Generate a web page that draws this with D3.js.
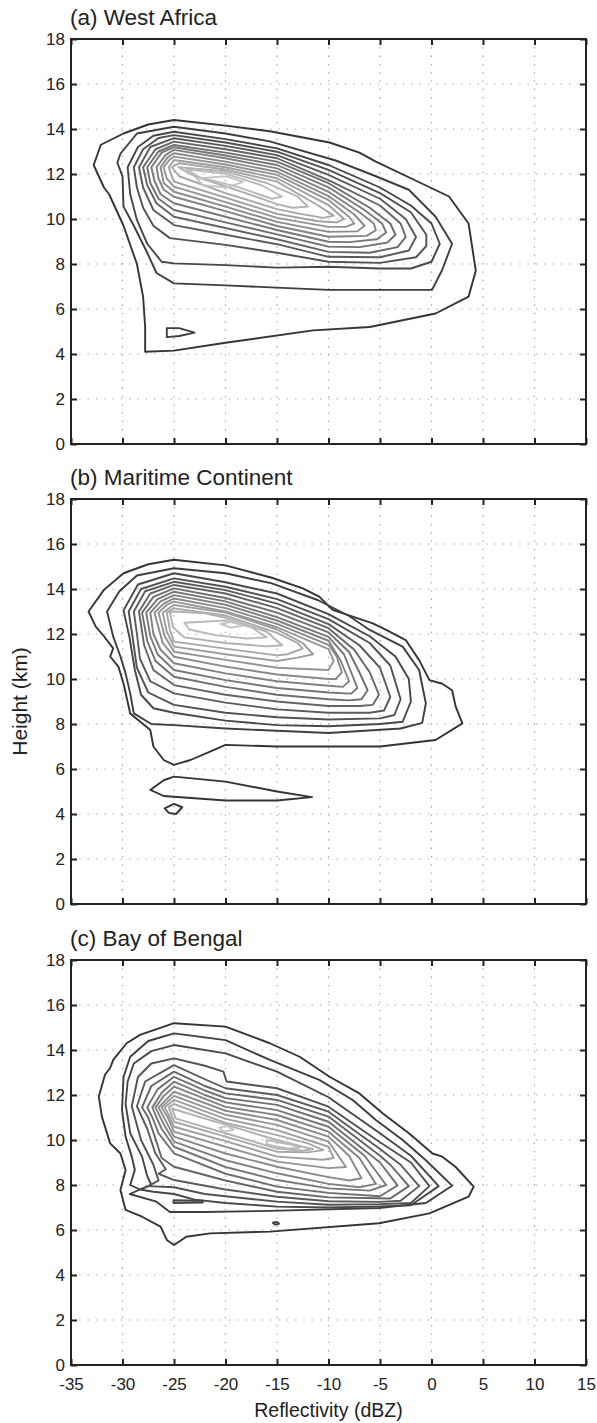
<!DOCTYPE html>
<html>
<head>
<meta charset="utf-8">
<script src="https://d3js.org/d3.v7.min.js"></script>
<style>
  body { margin: 0; background: #fff; }
  text { font-family: "Liberation Sans", Arial, sans-serif; fill: #222; }
</style>
</head>
<body>
<div id="chart"></div>
<script>
var W = 597, H = 1423;
var plotLeft = 71, plotRight = 586, panelH = 405;
var panelTops = [39, 499, 960];

var xTicks = [-35, -30, -25, -20, -15, -10, -5, 0, 5, 10, 15];
var yTicks = [0, 2, 4, 6, 8, 10, 12, 14, 16, 18];
var titles = ["(a) West Africa", "(b) Maritime Continent", "(c) Bay of Bengal"];

// contour rings, [dBZ, km], outermost level first
var westAfrica = [
  [[-32.8,12.4],[-32.1,13.3],[-29.9,13.8],[-27.5,14.2],[-25,14.4],[-20,14.15],[-15.7,13.9],[-9.9,13.4],[-7,12.95],[-5.4,12.55],[-1.5,11.7],[1.7,11.0],[3.6,9.8],[4.3,7.7],[3.6,6.55],[0.4,5.8],[-6,5.2],[-11.5,5.05],[-20,4.5],[-25,4.15],[-27.8,4.1],[-27.8,5.2],[-28.0,6.55],[-28.6,8.0],[-29.9,9.7],[-30.9,10.7],[-31.3,11.1],[-31.8,11.4],[-32.3,11.9]],
  [[-30.5,12.5],[-30.2,12.9],[-28.6,13.8],[-25,14.1],[-20,13.8],[-15.7,13.45],[-9.3,12.6],[-5.4,11.9],[-2.2,11.3],[0.4,10.1],[2.0,8.9],[1.0,7.7],[0.05,6.85],[-5,6.85],[-10,6.85],[-20,7.05],[-25,7.14],[-26.7,7.6],[-27.6,8.5],[-28.9,9.7],[-29.9,10.55],[-30.0,11.9]],
  [[-29.5,12.3],[-28.5,13.2],[-27,13.7],[-25,13.88],[-20,13.55],[-15,13.14],[-10,12.4],[-5,11.4],[-2,10.6],[0,9.8],[0.8,8.9],[0,8.1],[-2,7.8],[-5,7.8],[-10,7.88],[-15,7.84],[-20,7.95],[-25,8.03],[-26.2,8.1],[-27.6,8.9],[-28.6,9.96],[-29.25,11.1]],
  [[-28.9,12.3],[-28,13.1],[-26.5,13.6],[-25,13.73],[-20,13.4],[-15,12.99],[-10,12.18],[-5,11.15],[-2,10.3],[-0.5,9.3],[-0.5,8.8],[-1.5,8.3],[-5,8.05],[-10,8.1],[-15,8.5],[-20,8.85],[-25.4,9.15],[-27,9.7],[-28,10.5],[-28.6,11.4]],
  [[-28.4,12.3],[-27.3,13.2],[-25,13.59],[-20,13.25],[-15,12.84],[-10,11.96],[-5,10.9],[-2.5,10.0],[-1.5,9.2],[-2.2,8.6],[-5,8.3],[-10,8.32],[-15,8.88],[-20,9.3],[-25,9.73],[-27,10.4],[-28,11.4]],
  [[-28.0,12.3],[-26.8,13.1],[-25,13.44],[-20,13.1],[-15,12.7],[-10,11.73],[-5,10.6],[-3,9.8],[-2.5,9.2],[-3.3,8.75],[-6,8.5],[-10,8.54],[-15,9.1],[-20,9.6],[-25,10.1],[-26.7,10.7],[-27.6,11.5]],
  [[-27.6,12.3],[-26.5,13.0],[-25,13.29],[-20,12.95],[-15,12.55],[-10,11.59],[-6,10.5],[-4,9.8],[-3.5,9.3],[-4.3,8.95],[-7,8.75],[-10,8.77],[-15,9.32],[-20,9.85],[-25,10.4],[-26.5,10.9],[-27.3,11.6]],
  [[-27.2,12.3],[-26.2,12.95],[-25,13.19],[-20,12.82],[-15,12.4],[-10,11.41],[-6.5,10.4],[-4.8,9.8],[-4.4,9.4],[-5.3,9.1],[-8,8.97],[-10,8.99],[-15,9.51],[-20,10.1],[-25,10.7],[-26.3,11.1],[-26.9,11.7]],
  [[-26.7,12.3],[-25.8,12.85],[-25,13.07],[-20,12.7],[-15,12.25],[-10,11.21],[-7,10.3],[-5.6,9.8],[-5.4,9.5],[-6.3,9.25],[-10,9.21],[-15,9.69],[-20,10.35],[-25,10.99],[-26,11.3],[-26.5,11.8]],
  [[-26.3,12.3],[-25.6,12.75],[-25,12.92],[-20,12.55],[-15,12.1],[-10,11.02],[-7.5,10.2],[-6.5,9.7],[-7.2,9.45],[-10,9.43],[-15,9.87],[-20,10.55],[-25,11.21],[-26,11.6]],
  [[-26.0,12.3],[-25.4,12.65],[-25,12.77],[-20,12.42],[-15,11.96],[-10,10.84],[-8,10.1],[-7.5,9.8],[-8.3,9.65],[-10,9.65],[-15,10.05],[-20,10.75],[-25,11.44],[-25.7,11.8]],
  [[-25.5,12.3],[-25,12.62],[-20,12.3],[-15,11.81],[-10,10.62],[-8.5,10.0],[-9.2,9.85],[-11,9.9],[-15,10.23],[-20,10.95],[-25,11.66],[-25.3,12.0]],
  [[-25.2,12.3],[-24.5,12.48],[-20,12.2],[-15,11.66],[-11,10.6],[-9.5,10.15],[-10.5,10.05],[-13,10.25],[-15,10.44],[-20,11.15],[-24.5,11.9]],
  [[-24.6,12.3],[-20,12.12],[-16,11.6],[-13,11.0],[-12,10.55],[-13.5,10.5],[-15,10.66],[-19,11.3],[-23,11.9]],
  [[-23.8,12.2],[-20,12.02],[-16.5,11.5],[-14.5,11.0],[-15.5,10.9],[-19,11.45],[-22.5,11.85]],
  [[-22.8,11.8],[-19.9,11.9],[-18.3,11.65],[-19.9,11.4],[-22.2,11.5]]
];
var westAfricaExtra = [
  [[-25.7,5.15],[-24.5,5.15],[-23,4.95],[-24.5,4.8],[-25.7,4.75]]
];
var westAfricaExtraLevel = [1];

var maritime = [
  [[-33.3,13.0],[-31.8,13.96],[-29.9,14.7],[-27.5,15.1],[-25,15.3],[-20,15.05],[-15.5,14.5],[-12.5,14.03],[-10.9,13.66],[-9.6,13.07],[-5.7,12.47],[-4.4,12.18],[-2.5,11.73],[-1.2,10.84],[-0.2,9.95],[1.05,9.79],[2.0,9.5],[2.35,8.77],[3.0,8.03],[0.4,7.29],[-5,7.0],[-15,7.0],[-20,7.07],[-21.5,6.77],[-23.4,6.4],[-25,6.18],[-26,6.4],[-27,7.0],[-27.3,7.73],[-29.25,8.47],[-29.9,9.8],[-30.4,10.55],[-31.2,11.0],[-30.9,11.36],[-31.8,11.9],[-32.6,12.33]],
  [[-31.5,13.0],[-30.3,13.9],[-28.6,14.6],[-25,14.92],[-20,14.7],[-15.5,14.25],[-11,13.5],[-8,12.8],[-6,12.18],[-2.8,11.44],[-1.2,10.4],[-0.55,8.92],[-0.9,8.05],[-3,7.8],[-10,7.6],[-20,7.8],[-25,7.95],[-27.2,8.0],[-28.9,8.47],[-29.25,9.36],[-29.7,10.25],[-30.2,11.0],[-30.9,11.88]],
  [[-29.9,13.05],[-28.5,14.2],[-25,14.7],[-20,14.3],[-15,13.8],[-10,12.88],[-6,11.9],[-3.5,11.0],[-2.2,10.0],[-2.0,9.0],[-2.8,8.1],[-5,8.0],[-10,7.9],[-15,7.95],[-20,8.15],[-25,8.5],[-27,8.7],[-28.2,9.3],[-28.8,10.4],[-29.3,11.8]],
  [[-29.4,13.0],[-28.2,14.0],[-25,14.47],[-20,14.1],[-15,13.55],[-10,12.66],[-6,11.6],[-4,10.6],[-3.0,9.1],[-3.6,8.4],[-5,8.25],[-10,8.2],[-15,8.3],[-20,8.5],[-25,8.85],[-27.5,9.4],[-28.6,10.5],[-29,11.8]],
  [[-28.9,13.0],[-27.8,13.9],[-25,14.32],[-20,13.95],[-15,13.35],[-10,12.44],[-7,11.5],[-5,10.5],[-4.0,9.2],[-4.6,8.6],[-6,8.5],[-10,8.5],[-15,8.65],[-20,8.95],[-25,9.36],[-27.3,9.9],[-28.3,10.9],[-28.6,12.0]],
  [[-28.4,13.0],[-27.3,13.8],[-25,14.18],[-20,13.8],[-15,13.15],[-10,12.26],[-7.5,11.3],[-6,10.3],[-5.1,9.3],[-5.7,8.85],[-7,8.8],[-10,8.8],[-15,9.0],[-20,9.3],[-25,9.73],[-27,10.4],[-27.9,11.5]],
  [[-28.1,12.95],[-27,13.65],[-25,14.03],[-20,13.6],[-15,12.95],[-10,12.07],[-8,11.2],[-7,10.3],[-6.2,9.5],[-6.8,9.1],[-8,9.05],[-10,9.1],[-15,9.3],[-20,9.65],[-25,10.1],[-26.8,10.8],[-27.6,11.7]],
  [[-27.7,12.95],[-26.6,13.55],[-25,13.88],[-20,13.45],[-15,12.75],[-10,11.87],[-8.5,11.1],[-7.8,10.3],[-7.2,9.6],[-7.8,9.35],[-10,9.4],[-15,9.6],[-20,9.95],[-25,10.4],[-26.6,11.1],[-27.3,11.9]],
  [[-27.3,12.95],[-26.3,13.45],[-25,13.73],[-20,13.3],[-15,12.6],[-10,11.7],[-8.8,10.8],[-8.0,9.9],[-8.6,9.65],[-10,9.7],[-15,9.9],[-20,10.25],[-25,10.7],[-26.3,11.3],[-27,12.0]],
  [[-26.9,12.95],[-26,13.35],[-25,13.58],[-20,13.15],[-15,12.45],[-10,11.52],[-9.2,11.0],[-8.7,10.3],[-9.3,10.0],[-10,10.0],[-15,10.2],[-20,10.55],[-25,10.99],[-26.1,11.6]],
  [[-26.5,12.95],[-25.7,13.3],[-25,13.44],[-20,13.0],[-15,12.3],[-10,11.33],[-9.5,10.8],[-10,10.4],[-15,10.5],[-20,10.85],[-25,11.21],[-25.9,11.9]],
  [[-26.1,12.95],[-25,13.29],[-20,12.95],[-15,12.2],[-12.5,11.6],[-11.5,11.1],[-13,10.95],[-15,10.8],[-20,11.1],[-25,11.44],[-25.7,12.1]],
  [[-25.7,12.95],[-25,13.14],[-20,12.82],[-15,12.05],[-13,11.6],[-12.5,11.35],[-14,11.1],[-15,11.05],[-20,11.35],[-25,11.66],[-25.4,12.2]],
  [[-25.4,12.95],[-25,13.0],[-22,12.92],[-20,12.72],[-16,12.1],[-14.5,11.5],[-16,11.45],[-20,11.6],[-24,11.85],[-25.1,12.3]],
  [[-24,12.5],[-20,12.6],[-17.5,12.3],[-16,11.85],[-18,11.8],[-21,11.95],[-23.5,12.2]],
  [[-20.5,12.45],[-19.2,12.55],[-18.3,12.38],[-19.5,12.28]]
];
var maritimeExtra = [
  [[-27.3,5.07],[-26,5.5],[-25,5.66],[-20,5.44],[-15,5.0],[-11.6,4.75],[-15,4.6],[-20,4.6],[-26,4.8]],
  [[-25.9,4.25],[-25,4.45],[-24.2,4.3],[-24.8,4.0],[-25.5,4.05]]
];
var maritimeExtraLevel = [0, 0];

var bengal = [
  [[-32.3,11.93],[-31.7,12.9],[-31.2,13.2],[-30.9,13.56],[-29.6,14.3],[-28.3,14.67],[-25,15.19],[-20,15.04],[-15.7,14.3],[-12.8,13.7],[-9.9,12.81],[-7,12.07],[-4.75,11.19],[-2.2,10.3],[0.1,9.4],[1.05,9.26],[2.35,8.8],[4.1,7.93],[3.6,7.48],[-0.2,6.74],[-5.1,6.3],[-15.7,5.93],[-21.5,5.85],[-23.8,5.7],[-25,5.33],[-25.7,5.56],[-26.3,6.15],[-28.1,6.59],[-29.7,6.89],[-30.2,7.78],[-29.7,8.67],[-30.2,9.4],[-31.2,9.85],[-32.0,11.04]],
  [[-30.05,11.33],[-29.9,12.8],[-29.25,13.7],[-27.5,14.4],[-25,14.74],[-20,14.44],[-15.7,13.56],[-10.9,12.67],[-7.65,11.78],[-5.4,10.89],[-2.8,10.0],[-0.55,9.1],[2.0,7.97],[-0.55,7.2],[-5.1,6.98],[-15.7,6.85],[-22,6.8],[-25.4,6.8],[-26.7,7.26],[-29.3,7.6],[-28.3,7.8],[-29.25,8.0],[-28.8,8.67],[-29.1,9.26],[-29.7,10.15]],
  [[-29.7,11.6],[-29.5,12.6],[-28.9,13.4],[-27.2,13.95],[-25,14.22],[-20,13.85],[-15,13.04],[-10,11.9],[-5,10.3],[-2,9.3],[0.7,7.95],[-2,7.1],[-5,7.05],[-10,7.0],[-15,7.04],[-20,7.2],[-23,7.35],[-25,7.6],[-27,7.7],[-28.3,7.8],[-27.2,8.0],[-27.6,8.4],[-28.1,9.26],[-29.25,10.3]],
  [[-29.1,11.5],[-28.5,12.8],[-27.2,13.4],[-25,13.63],[-22,13.3],[-20.2,13.04],[-19.9,12.6],[-15,12.3],[-10,11.48],[-5,9.9],[-2,9.0],[-0.2,7.95],[-2,7.2],[-5,7.15],[-10,7.12],[-15,7.26],[-20,7.5],[-22,7.6],[-25,7.9],[-27.5,7.95],[-26.5,8.2],[-27.0,8.9],[-28.2,10.0]],
  [[-28.6,11.5],[-27.8,12.6],[-25,13.33],[-22,12.7],[-20,12.3],[-15,12.0],[-10,11.26],[-5,9.6],[-3,8.9],[-1.2,7.95],[-3,7.3],[-5,7.25],[-10,7.28],[-15,7.48],[-20,7.8],[-25,8.22],[-26.5,8.5],[-25.8,8.7],[-26.8,9.4],[-27.6,10.5]],
  [[-28.1,11.45],[-27.2,12.4],[-25,13.04],[-22,12.4],[-20,12.07],[-15,11.78],[-10,11.04],[-5,9.3],[-4,8.9],[-2.2,7.95],[-4,7.4],[-10,7.45],[-15,7.7],[-20,8.2],[-25,8.81],[-26.2,9.2],[-26.9,10.2],[-27.5,11.0]],
  [[-27.6,11.45],[-26.6,12.25],[-25,12.81],[-22,12.2],[-20,11.86],[-15,11.56],[-10,10.81],[-5,9.0],[-3.3,7.98],[-5,7.5],[-10,7.65],[-15,7.93],[-20,8.5],[-25,9.41],[-26.5,10.3],[-27.1,11.0]],
  [[-27.1,11.45],[-26.2,12.1],[-25,12.59],[-22,12.0],[-20,11.67],[-15,11.33],[-10,10.59],[-6.5,9.3],[-4.4,8.0],[-6,7.75],[-10,7.85],[-15,8.22],[-20,8.8],[-25,9.7],[-26.2,10.5],[-26.7,11.0]],
  [[-26.8,11.45],[-26,11.95],[-25,12.37],[-20,11.47],[-15,11.11],[-10,10.37],[-7,9.2],[-5.4,8.05],[-7,7.9],[-10,8.05],[-15,8.52],[-20,9.1],[-25,9.93],[-26,10.7]],
  [[-26.5,11.45],[-25,12.15],[-20,11.3],[-15,10.89],[-10,10.15],[-8,9.3],[-6.8,8.3],[-8,8.2],[-10,8.35],[-15,8.81],[-20,9.4],[-25,10.15],[-25.8,10.85]],
  [[-26.2,11.45],[-25,11.96],[-20,11.12],[-15,10.67],[-10,9.93],[-8.3,8.8],[-10,8.75],[-15,9.04],[-20,9.7],[-25,10.37],[-25.6,11.0]],
  [[-25.9,11.45],[-25,11.78],[-20,10.94],[-15,10.44],[-10,9.7],[-9.5,9.2],[-10.5,9.12],[-15,9.26],[-20,9.95],[-25,10.59],[-25.5,11.1]],
  [[-25.5,11.45],[-25,11.6],[-20,10.76],[-15,10.22],[-12,9.85],[-10.5,9.55],[-12,9.45],[-15,9.48],[-20,10.15],[-25,10.81]],
  [[-25.2,11.4],[-22,10.95],[-20,10.68],[-15,10.0],[-12.5,9.7],[-11.5,9.6],[-12.5,9.52],[-15,9.62],[-20,10.3],[-24.8,10.95]],
  [[-16,10.0],[-13.5,9.78],[-12.8,9.65],[-14,9.62],[-16,9.8]],
  [[-20.6,10.55],[-19.8,10.62],[-19.2,10.45],[-20.2,10.38]]
];
var bengalExtra = [
  [[-25.05,7.32],[-22.2,7.3],[-22.2,7.22],[-25.05,7.2]],
  [[-15.4,6.32],[-15.0,6.36],[-14.8,6.28],[-15.2,6.24]]
];
var bengalExtraLevel = [2, 1];

var panels = [
  {title: titles[0], rings: westAfrica, extra: westAfricaExtra, extraLevel: westAfricaExtraLevel},
  {title: titles[1], rings: maritime, extra: maritimeExtra, extraLevel: maritimeExtraLevel},
  {title: titles[2], rings: bengal, extra: bengalExtra, extraLevel: bengalExtraLevel}
];

var svg = d3.select("#chart").append("svg")
    .attr("width", W)
    .attr("height", H);

var x = d3.scaleLinear().domain([-35, 15]).range([plotLeft, plotRight]);
var levelColor = d3.scaleLinear().domain([0, 15]).range(["#343434", "#c4c4c4"]);

panels.forEach(function(p, k) {
  var top = panelTops[k];
  var y = d3.scaleLinear().domain([0, 18]).range([top + panelH, top]);
  var g = svg.append("g");

  // dotted grid
  g.selectAll(".gx").data(xTicks.slice(1, -1)).enter().append("line")
    .attr("x1", d => x(d)).attr("x2", d => x(d))
    .attr("y1", top).attr("y2", top + panelH)
    .attr("stroke", "#a0a0a0").attr("stroke-width", 1.2)
    .attr("stroke-dasharray", "1.3,7");
  g.selectAll(".gy").data(yTicks.slice(1, -1)).enter().append("line")
    .attr("x1", plotLeft).attr("x2", plotRight)
    .attr("y1", d => y(d)).attr("y2", d => y(d))
    .attr("stroke", "#a0a0a0").attr("stroke-width", 1.2)
    .attr("stroke-dasharray", "1.3,7");

  var line = d3.line()
    .x(d => x(d[0]))
    .y(d => y(d[1]))
    .curve(d3.curveLinearClosed);

  g.selectAll(".ring").data(p.rings).enter().append("path")
    .attr("d", line)
    .attr("fill", "none")
    .attr("stroke", (d, i) => levelColor(i))
    .attr("stroke-width", 1.9)
    .attr("stroke-linejoin", "round");

  g.selectAll(".extra").data(p.extra).enter().append("path")
    .attr("d", line)
    .attr("fill", "none")
    .attr("stroke", (d, i) => levelColor(p.extraLevel[i]))
    .attr("stroke-width", 1.9)
    .attr("stroke-linejoin", "round");

  // axes, ticks pointing inward
  var left = g.append("g").attr("transform", "translate(" + plotLeft + ",0)")
    .call(d3.axisLeft(y).tickValues(yTicks).tickSize(-6).tickPadding(6));
  var right = g.append("g").attr("transform", "translate(" + plotRight + ",0)")
    .call(d3.axisRight(y).tickValues(yTicks).tickSize(-6).tickFormat(""));
  var topAx = g.append("g").attr("transform", "translate(0," + top + ")")
    .call(d3.axisTop(x).tickValues(xTicks).tickSize(-6).tickFormat(""));
  var bottom = g.append("g").attr("transform", "translate(0," + (top + panelH) + ")")
    .call(d3.axisBottom(x).tickValues(xTicks).tickSize(-6).tickPadding(13)
      .tickFormat(k === 2 ? (d => String(d)) : ""));

  [left, right, topAx, bottom].forEach(function(a) {
    a.select(".domain").remove();
    a.selectAll(".tick line").attr("stroke", "#222").attr("stroke-width", 2);
    a.selectAll(".tick text").attr("font-size", 17).attr("fill", "#222")
      .style("font-family", '"Liberation Sans", Arial, sans-serif');
  });

  g.append("rect")
    .attr("x", plotLeft).attr("y", top)
    .attr("width", plotRight - plotLeft).attr("height", panelH)
    .attr("fill", "none").attr("stroke", "#222").attr("stroke-width", 2);

  g.append("text")
    .attr("x", plotLeft - 1).attr("y", top - 14)
    .attr("font-size", 22.5)
    .text(p.title);
});

svg.append("text")
  .attr("x", (plotLeft + plotRight) / 2).attr("y", 1417)
  .attr("text-anchor", "middle")
  .attr("font-size", 19.5)
  .text("Reflectivity (dBZ)");

svg.append("text")
  .attr("transform", "translate(27," + (panelTops[1] + panelH / 2) + ") rotate(-90)")
  .attr("text-anchor", "middle")
  .attr("font-size", 21)
  .text("Height (km)");
</script>
</body>
</html>
